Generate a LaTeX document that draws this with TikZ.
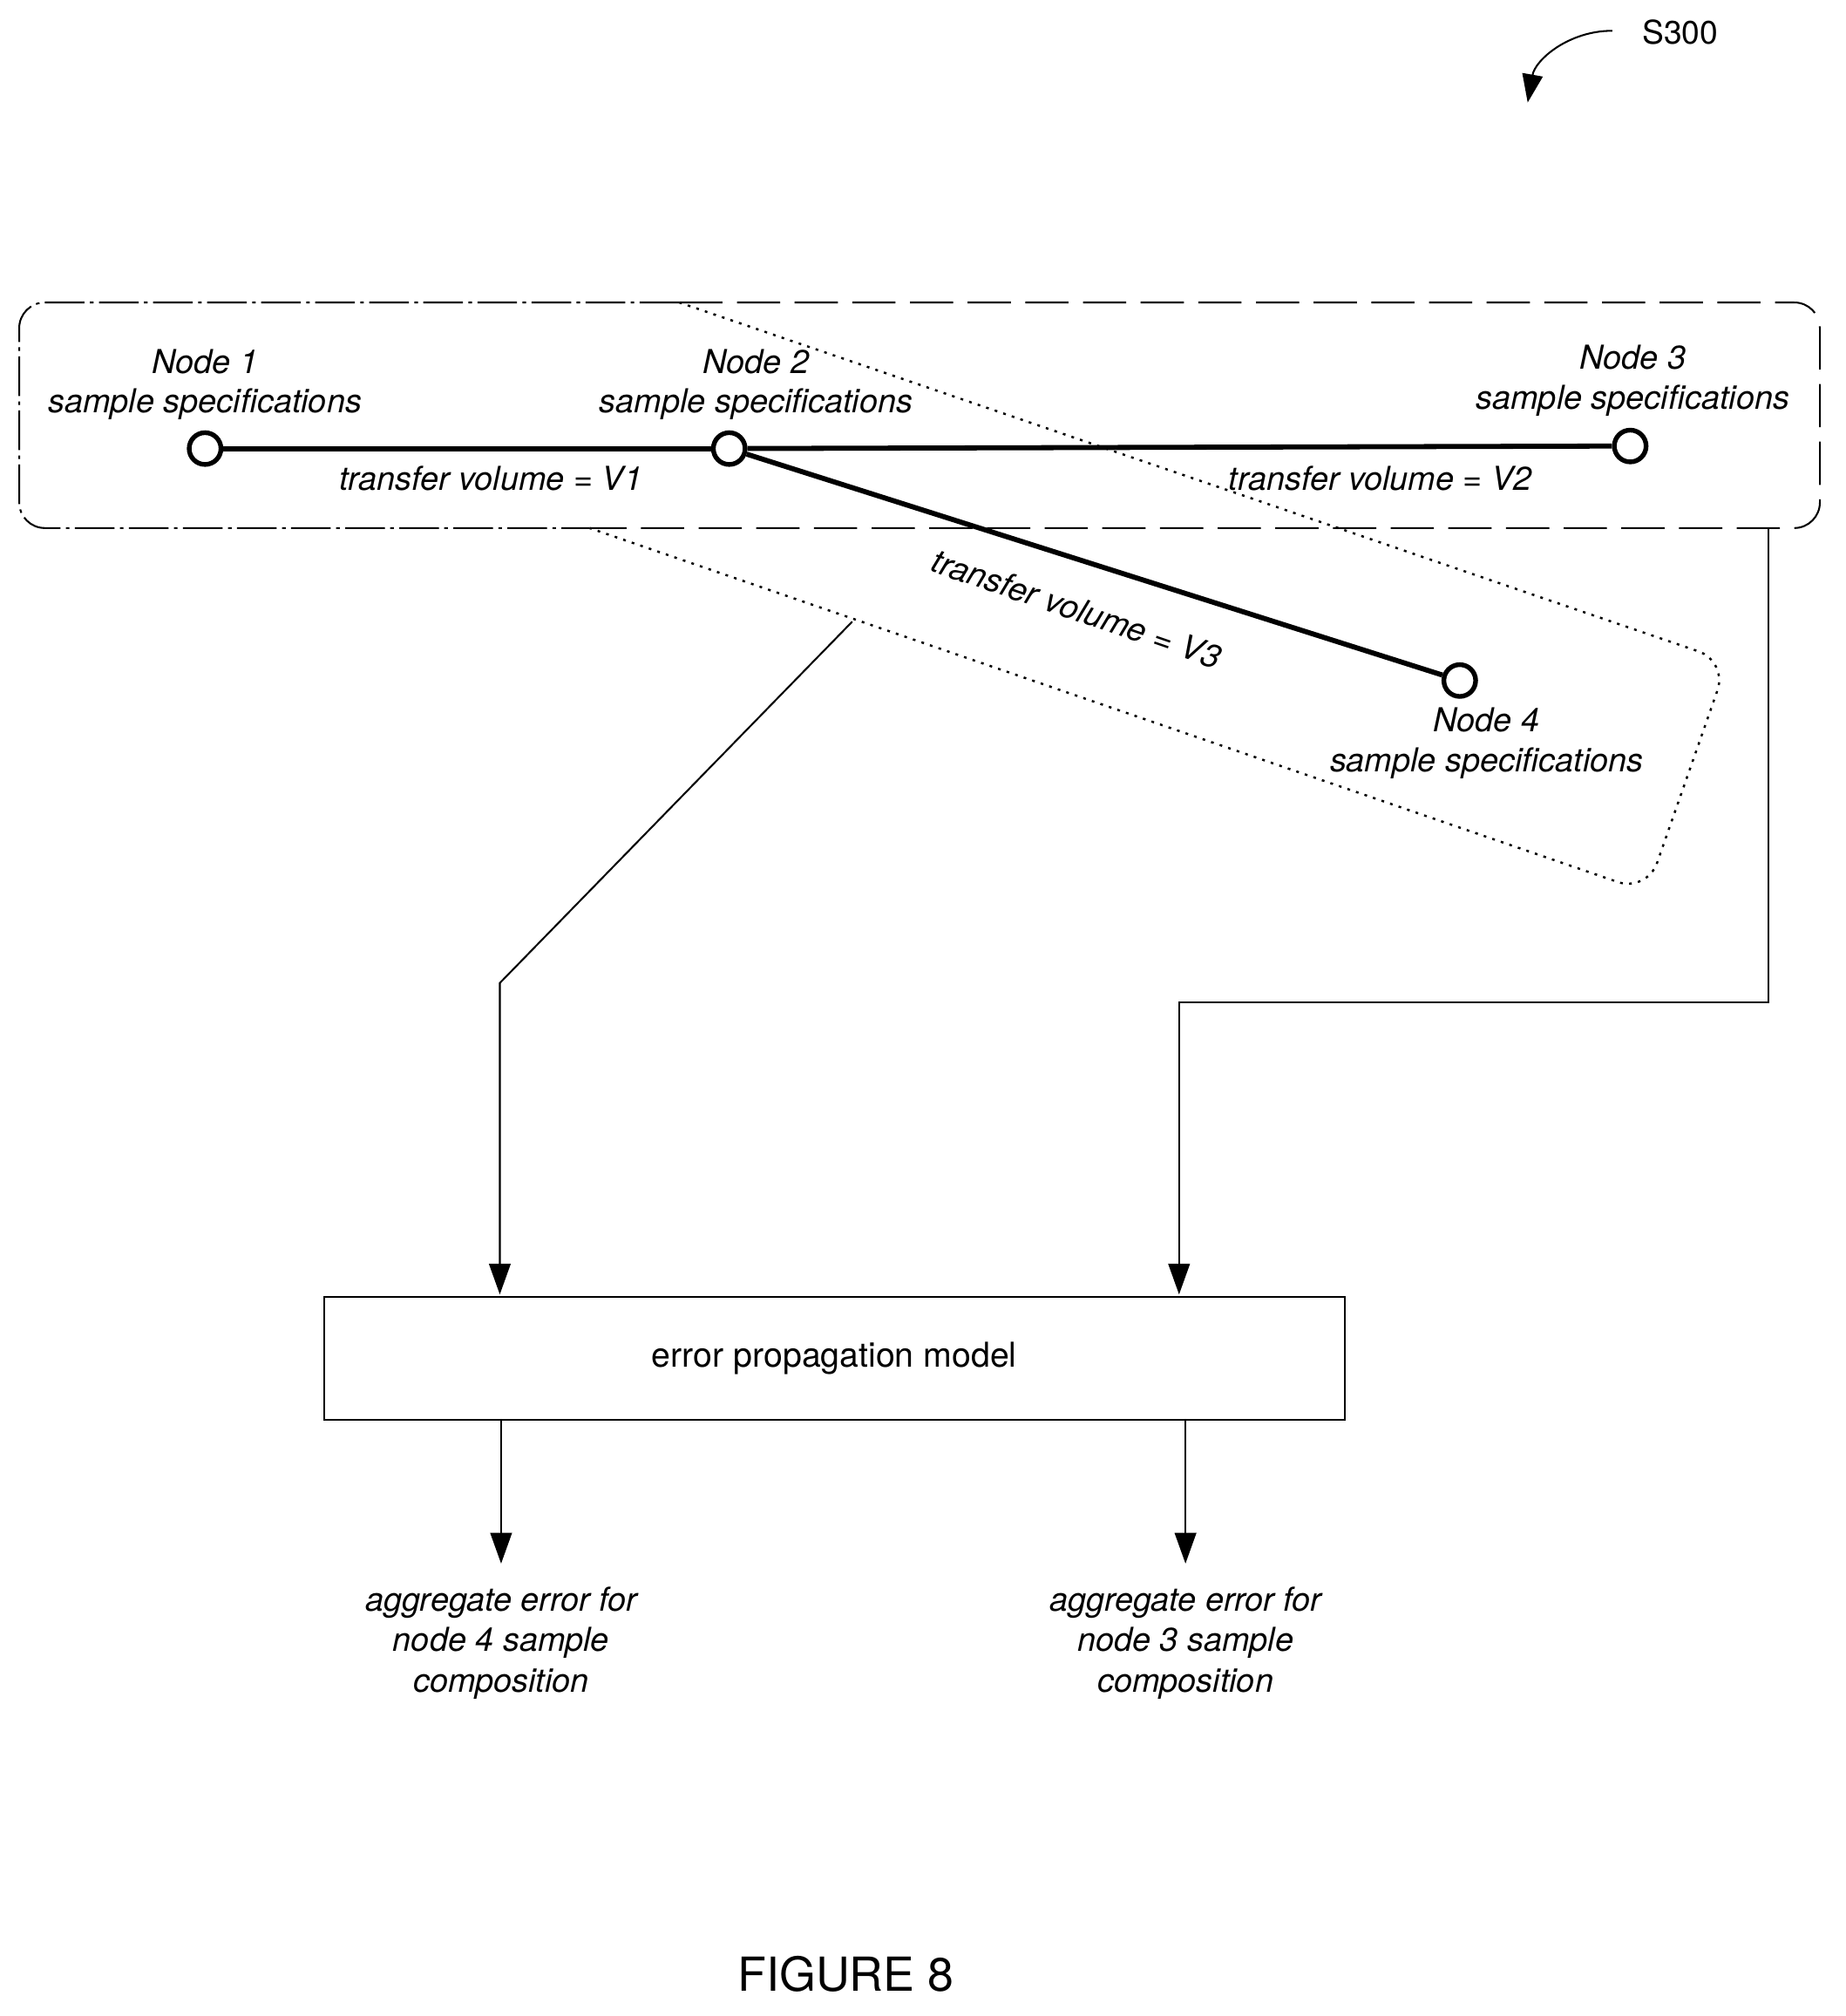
\documentclass[tikz,border=0pt]{standalone}
\usepackage{fontspec}
\setmainfont{TeX Gyre Heros}
\usetikzlibrary{arrows.meta}
\begin{document}
\begin{tikzpicture}[x=0.025cm,y=-0.025cm,
  lbl/.style={font=\fontsize{18.3}{22}\selectfont\itshape,align=center},
  vtx/.style={circle,draw,line width=2.6pt,fill=white,minimum size=0.62cm,inner sep=0pt},
  edge/.style={line width=2.8pt},
  conn/.style={line width=1pt,-{Triangle[length=0.6cm,width=0.42cm]}}]
\useasboundingbox (0,0) rectangle (1440,1573);
% groups
\draw[line width=1pt,rounded corners=0.5cm,dash pattern=on 22pt off 3pt on 2pt off 3pt] (530,236) -- (15,236) -- (15,412) -- (460,412);
\draw[line width=1pt,rounded corners=0.5cm,dash pattern=on 24pt off 8pt] (530,236) -- (1420,236) -- (1420,412) -- (460,412);
\draw[line width=1.2pt,rounded corners=0.6cm,dash pattern=on 1.5pt off 3.5pt] (530,236) -- (1348,516) -- (1285,696) -- (460,412);
% edges
\node[vtx] (n1) at (160,350) {};
\node[vtx] (n2) at (569,350) {};
\node[vtx] (n3) at (1272,348) {};
\node[vtx] (n4) at (1139,531) {};
\draw[edge] (n1) -- (n2);
\draw[edge] (n2) -- (n3);
\draw[edge] (n2) -- (n4);
\node[lbl] (t1) at (160,300) {Node 1\\sample specifications};
\node[lbl] (t2) at (590,300) {Node 2\\sample specifications};
\node[lbl] (t3) at (1274,297) {Node 3\\sample specifications};
\node[lbl] (t4) at (1160,580) {Node 4\\sample specifications};
\node[lbl] (v1) at (383,373) {transfer volume = V1};
\node[lbl] (v2) at (1077,373) {transfer volume = V2};
\node[lbl,rotate=-19] (v3) at (840,475) {transfer volume = V3};
% model
\node[draw,line width=1pt,minimum width=19.9cm,minimum height=2.4cm,font=\fontsize{19}{22}\selectfont] (m) at (651,1060) {error propagation model};
\coordinate (a0) at (665,485);
\coordinate (a1) at (390,767);
\coordinate (b0) at (1380,412);
\coordinate (b1) at (1380,782);
\coordinate (b2) at (920,782);
\draw[conn] (a0) -- (a1) -- (390,1010);
\draw[conn] (b0) -- (b1) -- (b2) -- (920,1010);
\node[lbl,font=\fontsize{18.3}{22.5}\selectfont\itshape] (o1) at (391,1282) {aggregate error for\\node 4 sample\\composition};
\node[lbl,font=\fontsize{18.3}{22.5}\selectfont\itshape] (o2) at (925,1282) {aggregate error for\\node 3 sample\\composition};
\draw[conn] (391,1108) -- (391,1220);
\draw[conn] (925,1108) -- (925,1220);
\node[font=\fontsize{26}{30}\selectfont] (fig) at (660,1540) {FIGURE 8};
\node[font=\fontsize{18}{21}\selectfont] (s) at (1311,25) {S300};
\draw[line width=1pt,-{Triangle[length=0.55cm,width=0.4cm]}] (1258,24) to[out=180,in=80] (1192,80);
\end{tikzpicture}
\end{document}
